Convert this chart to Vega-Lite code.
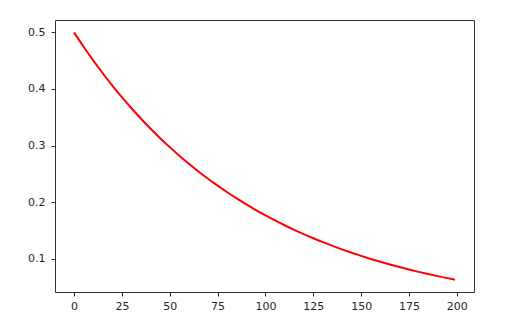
{
  "$schema": "https://vega.github.io/schema/vega-lite/v6.json",
  "width": 419,
  "height": 272,
  "autosize": {"type": "none"},
  "padding": {"left": 55, "top": 20, "right": 42, "bottom": 32},
  "background": "white",
  "config": {
    "view": {"stroke": "#333333", "strokeWidth": 1},
    "axis": {
      "grid": false,
      "domain": false,
      "tickColor": "#333333",
      "tickSize": 4,
      "tickWidth": 1,
      "labelFont": "DejaVu Sans",
      "labelFontSize": 11,
      "labelColor": "#262626",
      "title": null
    }
  },
  "data": {
    "values": [
      {"x": 0, "y": 0.5},
      {"x": 5, "y": 0.474665},
      {"x": 10, "y": 0.450612},
      {"x": 15, "y": 0.427779},
      {"x": 20, "y": 0.406104},
      {"x": 25, "y": 0.385526},
      {"x": 30, "y": 0.365991},
      {"x": 35, "y": 0.347446},
      {"x": 40, "y": 0.329841},
      {"x": 45, "y": 0.313128},
      {"x": 50, "y": 0.29726},
      {"x": 55, "y": 0.282198},
      {"x": 60, "y": 0.267899},
      {"x": 65, "y": 0.254324},
      {"x": 70, "y": 0.241437},
      {"x": 75, "y": 0.229203},
      {"x": 80, "y": 0.217589},
      {"x": 85, "y": 0.206564},
      {"x": 90, "y": 0.196097},
      {"x": 95, "y": 0.18616},
      {"x": 100, "y": 0.176728},
      {"x": 105, "y": 0.167773},
      {"x": 110, "y": 0.159271},
      {"x": 115, "y": 0.151201},
      {"x": 120, "y": 0.143539},
      {"x": 125, "y": 0.136266},
      {"x": 130, "y": 0.129361},
      {"x": 135, "y": 0.122806},
      {"x": 140, "y": 0.116584},
      {"x": 145, "y": 0.110676},
      {"x": 150, "y": 0.105068},
      {"x": 155, "y": 0.099744},
      {"x": 160, "y": 0.09469},
      {"x": 165, "y": 0.089892},
      {"x": 170, "y": 0.085337},
      {"x": 175, "y": 0.081013},
      {"x": 180, "y": 0.076908},
      {"x": 185, "y": 0.073011},
      {"x": 190, "y": 0.069311},
      {"x": 195, "y": 0.065799},
      {"x": 199, "y": 0.06312}
    ]
  },
  "mark": {"type": "line", "color": "#ff0000", "strokeWidth": 2, "interpolate": "monotone"},
  "encoding": {
    "x": {
      "field": "x",
      "type": "quantitative",
      "scale": {"domain": [-9.95, 208.95], "nice": false, "zero": false},
      "axis": {"values": [0, 25, 50, 75, 100, 125, 150, 175, 200], "labelPadding": 4, "labelAngle": 0}
    },
    "y": {
      "field": "y",
      "type": "quantitative",
      "scale": {"domain": [0.0413, 0.5219], "nice": false, "zero": false},
      "axis": {"values": [0.1, 0.2, 0.3, 0.4, 0.5], "format": ".1f", "labelPadding": 6}
    }
  }
}
